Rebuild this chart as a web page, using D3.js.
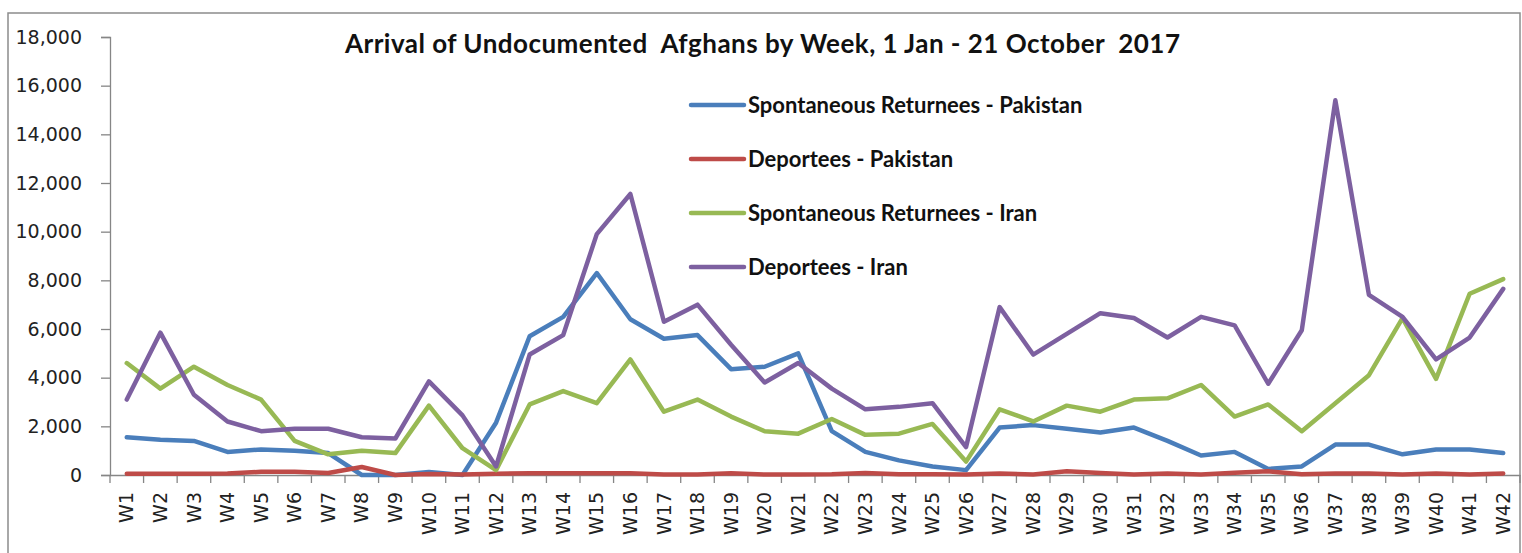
<!DOCTYPE html>
<html>
<head>
<meta charset="utf-8">
<script src="https://cdn.jsdelivr.net/npm/d3@7"></script>
<style>
  html, body { margin: 0; padding: 0; background: #fff; }
  svg { display: block; }
</style>
</head>
<body>
<div id="chart"></div>
<script>
// Weeks W1..W42
const weeks = d3.range(1, 43).map(i => `W${i}`);

const returneesPakistan = [
  1550, 1450, 1400, 950, 1050, 1000, 900, 0, 0, 120,
  0, 2150, 5700, 6500, 8300, 6400, 5600, 5750, 4350, 4450,
  5000, 1800, 950, 600, 350, 200, 1950, 2050, 1900, 1750,
  1950, 1400, 800, 950, 250, 350, 1250, 1250, 850, 1050,
  1050, 900
];

const deporteesPakistan = [
  50, 50, 50, 60, 130, 130, 80, 330, 0, 40,
  20, 50, 70, 70, 70, 70, 20, 20, 70, 20,
  20, 30, 80, 30, 30, 20, 60, 20, 150, 80,
  20, 60, 20, 90, 150, 30, 60, 60, 20, 60,
  20, 60
];

const returneesIran = [
  4600, 3550, 4450, 3700, 3100, 1400, 850, 1000, 900, 2850,
  1100, 200, 2900, 3450, 2950, 4750, 2600, 3100, 2400, 1800,
  1700, 2300, 1650, 1700, 2100, 550, 2700, 2200, 2850, 2600,
  3100, 3150, 3700, 2400, 2900, 1800, 2950, 4100, 6450, 3950,
  7450, 8050
];

const deporteesIran = [
  3100, 5850, 3300, 2200, 1800, 1900, 1900, 1550, 1500, 3850,
  2450, 350, 4950, 5750, 9900, 11550, 6300, 7000, 5350, 3800,
  4600, 3550, 2700, 2800, 2950, 1150, 6900, 4950, 5800, 6650,
  6450, 5650, 6500, 6150, 3750, 5950, 15400, 7400, 6500, 4750,
  5650, 7650
];

const seriesNames = [
  "Spontaneous Returnees - Pakistan",
  "Deportees - Pakistan",
  "Spontaneous Returnees - Iran",
  "Deportees - Iran"
];
const seriesColors = ["#4A7EBB", "#BE4B48", "#98B954", "#7D60A0"];
const seriesValues = [returneesPakistan, deporteesPakistan, returneesIran, deporteesIran];

const yTicks = d3.range(0, 18001, 2000);

const width = 1522, height = 553;
const plot = { left: 110, right: 1520, top: 37, bottom: 475 };

const svg = d3.select("#chart").append("svg")
  .attr("width", width)
  .attr("height", height);

// outer frame
svg.append("rect")
  .attr("x", 8).attr("y", 13)
  .attr("width", 1512).attr("height", 560)
  .attr("fill", "#fff")
  .attr("stroke", "#8c8c8c")
  .attr("stroke-width", 1.5);

const x = d3.scaleBand()
  .domain(weeks)
  .range([plot.left, plot.right]);

const y = d3.scaleLinear()
  .domain([0, 18000])
  .range([plot.bottom, plot.top]);

const axisColor = "#868686";
const labelFont = "'DejaVu Sans', Verdana, sans-serif";

// y axis
const yAxis = svg.append("g")
  .attr("transform", `translate(${plot.left},0)`)
  .call(d3.axisLeft(y).tickValues(yTicks).tickFormat(d3.format(",")).tickSize(9).tickPadding(19));
yAxis.select(".domain").attr("stroke", axisColor).attr("stroke-width", 1.3);
yAxis.selectAll(".tick line").attr("stroke", axisColor).attr("stroke-width", 1.3);
yAxis.selectAll(".tick text")
  .attr("fill", "#222")
  .style("font-family", labelFont)
  .style("font-size", "19px");

// x axis
const xAxis = svg.append("g")
  .attr("transform", `translate(0,${plot.bottom})`)
  .call(d3.axisBottom(x).tickSize(0).tickPadding(0));
xAxis.select(".domain").attr("stroke", axisColor).attr("stroke-width", 1.3);
xAxis.selectAll(".tick text")
  .attr("fill", "#222")
  .style("font-family", labelFont)
  .style("font-size", "19px")
  .attr("text-anchor", "end")
  .attr("dy", "0.35em")
  .attr("transform", "translate(0,17) rotate(-90)")
  .attr("x", 0).attr("y", 0);

// tick marks at category boundaries
const boundaries = weeks.map(w => x(w)).concat([x(weeks[weeks.length - 1]) + x.bandwidth()]);
svg.append("g")
  .selectAll("line")
  .data(boundaries)
  .join("line")
  .attr("x1", d => d).attr("x2", d => d)
  .attr("y1", plot.bottom).attr("y2", plot.bottom + 8)
  .attr("stroke", axisColor)
  .attr("stroke-width", 1.3);

// lines
const line = d3.line()
  .x((d, i) => x(weeks[i]) + x.bandwidth() / 2)
  .y(d => y(d));

svg.append("g")
  .selectAll("path")
  .data(seriesValues)
  .join("path")
  .attr("d", d => line(d))
  .attr("fill", "none")
  .attr("stroke", (d, i) => seriesColors[i])
  .attr("stroke-width", 4.5)
  .attr("stroke-linejoin", "round")
  .attr("stroke-linecap", "round");

// title
svg.append("text")
  .attr("x", 345)
  .attr("y", 53)
  .attr("fill", "#111")
  .attr("textLength", 835)
  .attr("lengthAdjust", "spacing")
  .style("font-family", "Lato, 'Open Sans', sans-serif")
  .style("font-weight", "bold")
  .style("font-size", "26px")
  .style("white-space", "pre")
  .text("Arrival of Undocumented  Afghans by Week, 1 Jan - 21 October  2017");

// legend
const legend = svg.append("g");
const legendY = [105, 159, 213, 267];
seriesNames.forEach((name, i) => {
  legend.append("line")
    .attr("x1", 691).attr("x2", 744)
    .attr("y1", legendY[i]).attr("y2", legendY[i])
    .attr("stroke", seriesColors[i])
    .attr("stroke-width", 4.5)
    .attr("stroke-linecap", "round");
  legend.append("text")
    .attr("x", 748)
    .attr("y", legendY[i])
    .attr("dy", "0.35em")
    .attr("fill", "#111")
    .style("font-family", "Lato, 'Open Sans', sans-serif")
    .style("font-weight", "bold")
    .style("font-size", "22px")
    .text(name);
});
</script>
</body>
</html>
